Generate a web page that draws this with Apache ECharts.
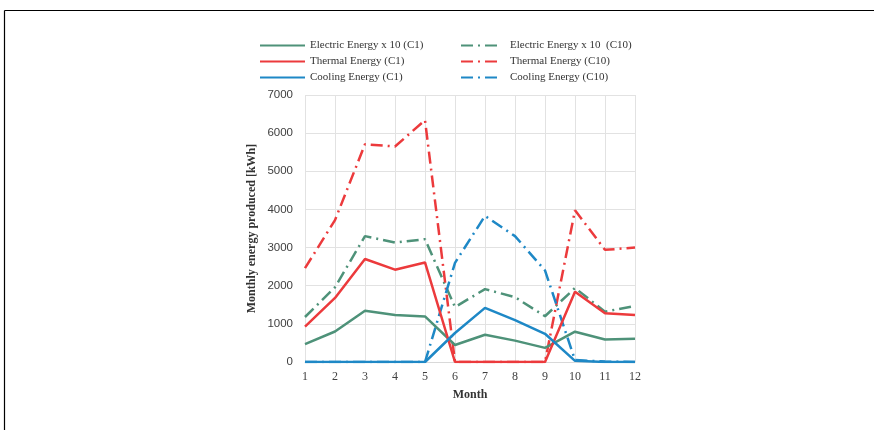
<!DOCTYPE html>
<html>
<head>
<meta charset="UTF-8" />
<script type="text/javascript" src="https://cdn.jsdelivr.net/npm/echarts@6/dist/echarts.min.js"></script>
<style>
	html, body { margin: 0; padding: 0; background: #fff; }
	#chartmain { width: 874px; height: 430px; }
</style>
</head>
<body>
	<div id="chartmain"></div>

	<script type="text/javascript">
		// months on the x axis
		var months = ['1', '2', '3', '4', '5', '6', '7', '8', '9', '10', '11', '12'];

		// case C1 (solid lines)
		var electricC1 = [470, 800, 1345, 1235, 1195, 445, 715, 560, 370, 795, 590, 610];
		var thermalC1 = [925, 1680, 2700, 2420, 2610, 0, 0, 0, 0, 1840, 1280, 1235];
		var coolingC1 = [0, 0, 0, 0, 0, 760, 1420, 1100, 740, 30, 0, 0];

		// case C10 (dash-dot lines)
		var electricC10 = [1180, 1960, 3300, 3130, 3220, 1440, 1910, 1700, 1200, 1940, 1320, 1470];
		var thermalC10 = [2460, 3720, 5710, 5650, 6340, 0, 0, 0, 0, 3980, 2940, 3000];
		var coolingC10 = [0, 0, 0, 0, 0, 2600, 3830, 3300, 2400, 50, 10, 0];

		var green = '#4E9279', red = '#EC3A3C', blue = '#1E88C6';
		var dashDot = [12, 5, 2, 5];

		function mkLine(name, data, color, dashed) {
			return {
				name: name,
				type: 'line',
				data: data,
				symbol: 'none',
				showSymbol: false,
				lineStyle: { color: color, width: 2.5, type: dashed ? dashDot : 'solid' },
				itemStyle: { color: color },
				z: dashed ? 2 : 3
			};
		}

		// legend: hide the little circle, keep only the line sample
		var hiddenDot = { color: 'transparent', borderColor: 'transparent', borderWidth: 0, opacity: 0 };

		var option = {
			animation: false,
			backgroundColor: '#fff',
			grid: { left: 305, right: 239, top: 95, bottom: 68 },
			legend: [{
				orient: 'vertical',
				left: 259,
				top: 40,
				padding: 0,
				itemWidth: 45,
				itemHeight: 12,
				itemGap: 5,
				itemStyle: hiddenDot,
				textStyle: { fontFamily: 'Liberation Serif', fontSize: 11, color: '#333' },
				data: ['Electric Energy x 10 (C1)', 'Thermal Energy (C1)', 'Cooling Energy (C1)']
			}, {
				orient: 'vertical',
				left: 460,
				top: 40,
				padding: 0,
				itemWidth: 37,
				itemHeight: 12,
				itemGap: 5,
				itemStyle: hiddenDot,
				textStyle: { fontFamily: 'Liberation Serif', fontSize: 11, color: '#333', padding: [0, 0, 0, 7] },
				data: ['Electric Energy x 10  (C10)', 'Thermal Energy (C10)', 'Cooling Energy (C10)']
			}],
			xAxis: {
				type: 'category',
				data: months,
				boundaryGap: false,
				name: 'Month',
				nameLocation: 'middle',
				nameGap: 27,
				nameTextStyle: { fontFamily: 'Liberation Serif', fontWeight: 'bold', fontSize: 12, color: '#333' },
				axisLine: { lineStyle: { color: '#D9D9D9', width: 1 } },
				axisTick: { show: false },
				axisLabel: { margin: 9, fontFamily: 'Liberation Serif', fontSize: 12, color: '#404040', interval: 0 },
				splitLine: { show: true, lineStyle: { color: '#E2E2E2', width: 1 } }
			},
			yAxis: {
				type: 'value',
				min: 0,
				max: 7000,
				interval: 1000,
				name: 'Monthly energy produced [kWh]',
				nameLocation: 'middle',
				nameGap: 47,
				nameTextStyle: { fontFamily: 'Liberation Serif', fontWeight: 'bold', fontSize: 12, color: '#333' },
				axisLine: { show: false },
				axisTick: { show: false },
				axisLabel: {
					margin: 12, fontFamily: 'Liberation Sans', fontSize: 11.5, color: '#404040',
					formatter: function (v) { return String(v); }
				},
				splitLine: { show: true, lineStyle: { color: '#E2E2E2', width: 1 } }
			},
			graphic: [
				{ type: 'line', shape: { x1: 4.5, y1: 10.5, x2: 874, y2: 10.5 }, style: { stroke: '#000', lineWidth: 1.2 } },
				{ type: 'line', shape: { x1: 4.5, y1: 10.5, x2: 4.5, y2: 430 }, style: { stroke: '#000', lineWidth: 1.2 } }
			],
			series: [
				mkLine('Electric Energy x 10 (C1)', electricC1, green, false),
				mkLine('Thermal Energy (C1)', thermalC1, red, false),
				mkLine('Cooling Energy (C1)', coolingC1, blue, false),
				mkLine('Electric Energy x 10  (C10)', electricC10, green, true),
				mkLine('Thermal Energy (C10)', thermalC10, red, true),
				mkLine('Cooling Energy (C10)', coolingC10, blue, true)
			]
		};

		var myChart = echarts.init(document.getElementById('chartmain'));
		myChart.setOption(option);
	</script>
</body>
</html>
